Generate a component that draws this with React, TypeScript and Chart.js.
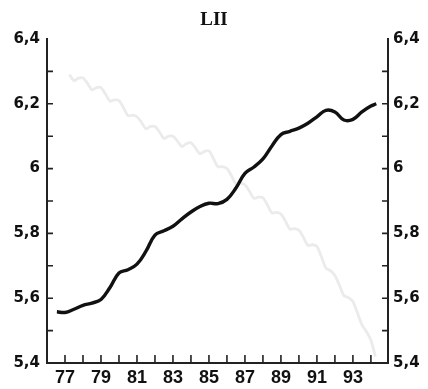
import React, { useEffect, useRef } from "react";
import { Chart, registerables } from "chart.js";

Chart.register(...registerables);

// LII series: years (fractional) and log values
const liiYears = [
  76.55, 77.0, 77.5, 78.0, 78.5, 79.0, 79.5, 80.0, 80.5, 81.0, 81.5, 82.0, 82.5,
  83.0, 83.5, 84.0, 84.5, 85.0, 85.5, 86.0, 86.5, 87.0, 87.5, 88.0, 88.5, 89.0,
  89.5, 90.0, 90.5, 91.0, 91.5, 92.0, 92.5, 93.0, 93.5, 94.0, 94.3,
];
const liiValues = [
  5.558, 5.556, 5.566, 5.578, 5.585, 5.596, 5.633, 5.678, 5.688, 5.705, 5.745,
  5.795, 5.808, 5.822, 5.845, 5.866, 5.883, 5.893, 5.892, 5.905, 5.94, 5.985,
  6.005, 6.03, 6.07, 6.105, 6.115, 6.125, 6.14, 6.16, 6.18, 6.175, 6.15, 6.152,
  6.175, 6.193, 6.2,
];

// Quarterly comparison series (light grey)
const quarterYears = [
  77.25, 77.5, 77.75, 78.0, 78.25, 78.5, 78.75, 79.0, 79.25, 79.5, 79.75, 80.0,
  80.25, 80.5, 80.75, 81.0, 81.25, 81.5, 81.75, 82.0, 82.25, 82.5, 82.75, 83.0,
  83.25, 83.5, 83.75, 84.0, 84.25, 84.5, 84.75, 85.0, 85.25, 85.5, 85.75, 86.0,
  86.25, 86.5, 86.75, 87.0, 87.25, 87.5, 87.75, 88.0, 88.25, 88.5, 88.75, 89.0,
  89.25, 89.5, 89.75, 90.0, 90.25, 90.5, 90.75, 91.0, 91.25, 91.5, 91.75, 92.0,
  92.25, 92.5, 92.75, 93.0, 93.25, 93.5, 93.75, 94.0, 94.25,
];
const quarterValues = [
  6.29, 6.271, 6.279, 6.28, 6.263, 6.243, 6.25, 6.25, 6.23, 6.208, 6.212, 6.21,
  6.188, 6.163, 6.165, 6.16, 6.143, 6.123, 6.13, 6.13, 6.113, 6.093, 6.1, 6.1,
  6.085, 6.068, 6.077, 6.08, 6.064, 6.046, 6.053, 6.055, 6.031, 6.006, 6.006, 6.0,
  5.978, 5.953, 5.955, 5.95, 5.93, 5.908, 5.912, 5.91, 5.888, 5.863, 5.865, 5.86,
  5.838, 5.813, 5.815, 5.81, 5.788, 5.763, 5.765, 5.76, 5.728, 5.693, 5.685, 5.67,
  5.64, 5.608, 5.602, 5.59, 5.555, 5.518, 5.497, 5.47, 5.42,
];

// Axis ticks and labels
const xLabelYears = [77, 79, 81, 83, 85, 87, 89, 91, 93];
const xTickYears = [77, 78, 79, 80, 81, 82, 83, 84, 85, 86, 87, 88, 89, 90, 91, 92, 93, 94];
const yLabelValues = [5.4, 5.6, 5.8, 6.0, 6.2, 6.4];
const yLabelTexts = ["5,4", "5,6", "5,8", "6", "6,2", "6,4"];
const yMinorTicks = [5.5, 5.6, 5.7, 5.8, 5.9, 6.0, 6.1, 6.2, 6.3];

const yLabel = (v: number) => {
  const i = yLabelValues.findIndex((t) => Math.abs(t - v) < 1e-6);
  return i >= 0 ? yLabelTexts[i] : "";
};

const framePlugin = {
  id: "frame",
  afterDatasetsDraw(chart: any) {
    const { ctx, chartArea, scales } = chart;
    const { left, right, top, bottom } = chartArea;
    const x = scales.x;
    const y = scales.y;
    ctx.save();
    ctx.strokeStyle = "#222";
    ctx.lineWidth = 2;
    ctx.beginPath();
    ctx.moveTo(left, top - 1);
    ctx.lineTo(left, bottom);
    ctx.lineTo(right, bottom);
    ctx.lineTo(right, top - 1);
    ctx.stroke();
    ctx.lineWidth = 1.6;
    ctx.beginPath();
    for (const v of yMinorTicks) {
      const py = y.getPixelForValue(v);
      ctx.moveTo(left, py);
      ctx.lineTo(left + 6, py);
      ctx.moveTo(right, py);
      ctx.lineTo(right - 6, py);
    }
    for (const yr of xTickYears) {
      const px = x.getPixelForValue(yr);
      ctx.moveTo(px, bottom);
      ctx.lineTo(px, bottom - 8);
    }
    ctx.stroke();
    ctx.restore();
  },
};

export default function App() {
  const canvasRef = useRef<HTMLCanvasElement | null>(null);

  useEffect(() => {
    const canvas = canvasRef.current;
    if (!canvas) return;
    const chart = new Chart(canvas, {
      type: "line",
      data: {
        datasets: [
          {
            label: "LII",
            data: liiYears.map((yr, i) => ({ x: yr, y: liiValues[i] })),
            borderColor: "#111",
            borderWidth: 3.4,
            pointRadius: 0,
            tension: 0.4,
            order: 0,
          },
          {
            label: "comparison",
            data: quarterYears.map((yr, i) => ({ x: yr, y: quarterValues[i] })),
            borderColor: "#ebebeb",
            borderWidth: 2.8,
            pointRadius: 0,
            tension: 0.25,
            order: 1,
          },
        ],
      },
      options: {
        animation: false,
        responsive: false,
        devicePixelRatio: 1,
        layout: { padding: 0 },
        plugins: {
          legend: { display: false },
          tooltip: { enabled: false },
          title: {
            display: true,
            text: "LII",
            color: "#111",
            font: { family: "'Liberation Serif', 'DejaVu Serif', serif", size: 19, weight: "bold" },
            padding: { top: 9, bottom: 7.2 },
          },
        },
        scales: {
          x: {
            type: "linear",
            min: 76,
            max: 94.95,
            grid: { display: false, drawTicks: false },
            border: { display: false },
            afterBuildTicks: (scale: any) => {
              scale.ticks = xLabelYears.map((v) => ({ value: v }));
            },
            afterFit: (scale: any) => {
              scale.height = 26;
            },
            ticks: {
              autoSkip: false,
              maxRotation: 0,
              padding: 4,
              color: "#111",
              font: { family: "'Liberation Sans', Arial, sans-serif", size: 18, weight: "bold" },
              callback: (v: any) => String(v),
            },
          },
          y: {
            position: "left",
            min: 5.4,
            max: 6.4,
            grid: { display: false, drawTicks: false },
            border: { display: false },
            afterBuildTicks: (scale: any) => {
              scale.ticks = yLabelValues.map((v) => ({ value: v }));
            },
            afterFit: (scale: any) => {
              scale.width = 47;
            },
            ticks: {
              padding: 7,
              color: "#111",
              font: { family: "'DejaVu Sans', sans-serif", size: 15, weight: "bold" },
              callback: (v: any) => yLabel(Number(v)),
            },
          },
          y2: {
            position: "right",
            min: 5.4,
            max: 6.4,
            grid: { display: false, drawTicks: false },
            border: { display: false },
            afterBuildTicks: (scale: any) => {
              scale.ticks = yLabelValues.map((v) => ({ value: v }));
            },
            afterFit: (scale: any) => {
              scale.width = 40;
            },
            ticks: {
              padding: 5,
              color: "#111",
              font: { family: "'DejaVu Sans', sans-serif", size: 15, weight: "bold" },
              callback: (v: any) => yLabel(Number(v)),
            },
          },
        },
      },
      plugins: [framePlugin],
    });
    return () => chart.destroy();
  }, []);

  return (
    <div style={{ position: "absolute", left: 0, top: 0, width: 428, height: 389, background: "#fff" }}>
      <canvas ref={canvasRef} width={428} height={389} style={{ width: 428, height: 389 }} />
    </div>
  );
}
